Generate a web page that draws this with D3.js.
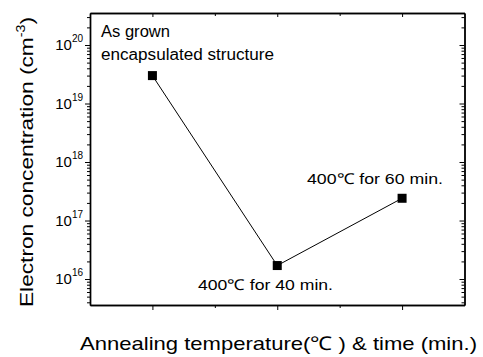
<!doctype html>
<html lang="en">
<head>
<meta charset="utf-8">
<script src="https://d3js.org/d3.v7.min.js"></script>
<style>
  body { margin: 0; background: #fff; }
  text { font-family: "Liberation Sans", Arial, sans-serif; fill: #000; }
</style>
</head>
<body>
<svg width="483" height="357"></svg>
<script>

var categories = ["As grown", "400℃ for 40 min.", "400℃ for 60 min."];
var concentration = [3.0e19, 1.7e16, 2.4e17];
var decades = [16, 17, 18, 19, 20];
var pointLabels = [
  ["As grown", "encapsulated structure"],
  ["400℃  for 40 min."],
  ["400℃  for 60 min."]
];
var xTitle = "Annealing temperature(℃ ) & time (min.)";
var yTitle = "Electron concentration (cm";

var svg = d3.select("svg"),
    plotLeft = 90, plotRight = 464.5, plotTop = 13, plotBottom = 305;

var x = d3.scalePoint().domain(categories).range([plotLeft, plotRight]).padding(0.5);
var xEdge = d3.scaleLinear().domain([0, categories.length]).range([plotLeft, plotRight]);
var y = d3.scaleLog().domain([Math.pow(10, 15.556), Math.pow(10, 20.547)]).range([plotBottom, plotTop]);

var majors = decades.map(function(d) { return Math.pow(10, d); });
var minors = [];
d3.range(15, 21).forEach(function(d) {
  d3.range(2, 10).forEach(function(m) {
    var v = m * Math.pow(10, d);
    if (v > y.domain()[0] && v < y.domain()[1]) minors.push(v);
  });
});

function styleAxis(g) {
  g.selectAll("path.domain").attr("stroke-width", 1.4);
  g.selectAll(".tick line").attr("stroke-width", 1);
}

// left axis, ticks outward
svg.append("g").attr("transform", "translate(" + plotLeft + ",0)")
    .call(d3.axisLeft(y).tickValues(majors).tickSize(5).tickSizeOuter(0).tickFormat(""))
    .call(styleAxis);
svg.append("g").attr("transform", "translate(" + plotLeft + ",0)")
    .call(d3.axisLeft(y).tickValues(minors).tickSize(3).tickSizeOuter(0).tickFormat(""))
    .call(styleAxis);
// right axis, ticks inward
svg.append("g").attr("transform", "translate(" + plotRight + ",0)")
    .call(d3.axisLeft(y).tickValues(majors).tickSize(5).tickSizeOuter(0).tickFormat(""))
    .call(styleAxis);
svg.append("g").attr("transform", "translate(" + plotRight + ",0)")
    .call(d3.axisLeft(y).tickValues(minors).tickSize(3).tickSizeOuter(0).tickFormat(""))
    .call(styleAxis);
// bottom axis, ticks outward
svg.append("g").attr("transform", "translate(0," + plotBottom + ")")
    .call(d3.axisBottom(x).tickSize(5).tickSizeOuter(0).tickFormat(""))
    .call(styleAxis);
svg.append("g").attr("transform", "translate(0," + plotBottom + ")")
    .call(d3.axisBottom(xEdge).tickValues([1, 2]).tickSize(3).tickSizeOuter(0).tickFormat(""))
    .call(styleAxis);
// top axis, ticks inward
svg.append("g").attr("transform", "translate(0," + plotTop + ")")
    .call(d3.axisBottom(x).tickSize(4).tickSizeOuter(0).tickFormat(""))
    .call(styleAxis);
svg.append("g").attr("transform", "translate(0," + plotTop + ")")
    .call(d3.axisBottom(xEdge).tickValues([1, 2]).tickSize(3).tickSizeOuter(0).tickFormat(""))
    .call(styleAxis);

// y tick labels 10^n
var tl = svg.append("g").selectAll("text").data(decades).join("text")
    .attr("x", plotLeft - 7)
    .attr("y", function(d) { return y(Math.pow(10, d)) + 5; })
    .attr("text-anchor", "end")
    .style("font-size", "15px");
tl.append("tspan").text("10");
tl.append("tspan").attr("dy", -8).style("font-size", "10px").text(function(d) { return d; });

// line and markers
var pts = categories.map(function(c, i) { return [x(c), y(concentration[i])]; });
svg.append("path")
    .attr("d", d3.line()(pts))
    .attr("fill", "none")
    .attr("stroke", "#000")
    .attr("stroke-width", 1);
svg.append("g").selectAll("rect").data(pts).join("rect")
    .attr("x", function(d) { return d[0] - 4.5; })
    .attr("y", function(d) { return d[1] - 4.5; })
    .attr("width", 9).attr("height", 9)
    .attr("fill", "#000");

// annotations
svg.append("text").attr("x", 101).attr("y", 37).style("font-size", "16px")
    .attr("textLength", 69).attr("lengthAdjust", "spacingAndGlyphs").text(pointLabels[0][0]);
svg.append("text").attr("x", 101).attr("y", 60).style("font-size", "16px")
    .attr("textLength", 173).attr("lengthAdjust", "spacingAndGlyphs").text(pointLabels[0][1]);
svg.append("text").attr("x", 198).attr("y", 290).style("font-size", "15px")
    .attr("textLength", 135).attr("lengthAdjust", "spacingAndGlyphs").text(pointLabels[1][0]);
svg.append("text").attr("x", 307).attr("y", 184).style("font-size", "15px")
    .attr("textLength", 136).attr("lengthAdjust", "spacingAndGlyphs").text(pointLabels[2][0]);

// axis titles
svg.append("text").attr("x", 80).attr("y", 350).style("font-size", "19px")
    .attr("textLength", 397).attr("lengthAdjust", "spacingAndGlyphs").text(xTitle);
var yt = svg.append("text")
    .attr("transform", "translate(33,307) rotate(-90)")
    .attr("textLength", 290).attr("lengthAdjust", "spacingAndGlyphs")
    .style("font-size", "19px");
yt.append("tspan").text(yTitle);
yt.append("tspan").attr("dy", -8).style("font-size", "12px").text("-3");
yt.append("tspan").attr("dy", 8).text(")");

</script>
</body>
</html>
